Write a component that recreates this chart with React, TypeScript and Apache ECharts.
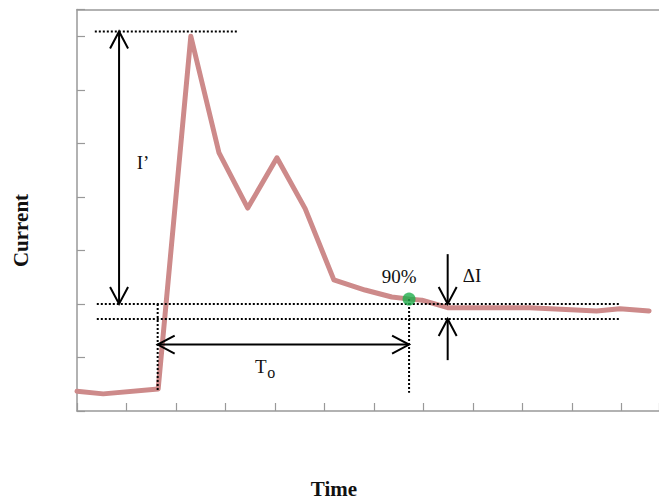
import React, { useEffect, useRef } from "react";
import * as echarts from "echarts";

// Measured current response (time in divisions, current in divisions)
const timeValues = [0, 0.53, 1.64, 2.3, 2.87, 3.45, 4.04, 4.61, 5.19, 5.82, 6.36, 6.73, 6.97, 7.49, 9.15, 10.5, 10.97, 11.56];
const currentValues = [0.37, 0.32, 0.41, 7.0, 4.82, 3.79, 4.73, 3.78, 2.45, 2.26, 2.13, 2.09, 2.07, 1.93, 1.93, 1.87, 1.91, 1.87];

// Characteristic levels and instants
const peakLevel = 7.09;
const bandUpper = 2.0;
const bandLower = 1.72;
const riseStartTime = 1.63;
const riseStartCurrent = 0.39;
const settleTime = 6.71;
const settleCurrent = 2.09;
const settleFootCurrent = 0.34;
const peakArrowTime = 0.85;
const periodArrowCurrent = 1.24;
const deltaArrowTime = 7.49;
const deltaTopCurrent = 2.93;
const deltaBottomCurrent = 0.95;
const bandStartTime = 0.4;
const bandEndTime = 10.97;
const peakLineStart = 0.36;
const peakLineEnd = 3.25;

const X_MAX = 11.76;
const Y_MAX = 7.5;

const SERIF = '"Liberation Serif", "Times New Roman", serif';
const INK = "#111";

export default function App() {
  const ref = useRef<HTMLDivElement>(null);

  useEffect(() => {
    if (!ref.current) return;
    const chart = echarts.init(ref.current, null, { renderer: "svg" });

    const dotted = (a: number[], b: number[]) => ({
      type: "line",
      shape: { x1: a[0], y1: a[1], x2: b[0], y2: b[1] },
      style: { stroke: "#000", lineWidth: 2, lineDash: [2, 2] },
    });

    const head = (tip: number[], from: number[]) => {
      const dx = from[0] - tip[0];
      const dy = from[1] - tip[1];
      const len = Math.hypot(dx, dy) || 1;
      const ux = dx / len;
      const uy = dy / len;
      const L = 17;
      const W = 9;
      return {
        type: "polyline",
        shape: {
          points: [
            [tip[0] + ux * L - uy * W, tip[1] + uy * L + ux * W],
            [tip[0], tip[1]],
            [tip[0] + ux * L + uy * W, tip[1] + uy * L - ux * W],
          ],
        },
        style: { stroke: "#000", lineWidth: 2, fill: "none" },
      };
    };

    const shaft = (a: number[], b: number[]) => ({
      type: "line",
      shape: { x1: a[0], y1: a[1], x2: b[0], y2: b[1] },
      style: { stroke: "#000", lineWidth: 2 },
    });

    const label = (text: string, x: number, y: number, size = 19, align = "center") => ({
      type: "text",
      style: {
        text,
        x,
        y,
        fill: INK,
        font: `${size}px ${SERIF}`,
        align,
        verticalAlign: "middle",
      },
    });

    const renderAnnotations = (_params: any, api: any) => {
      const P = (x: number, y: number) => api.coord([x, y]);
      const children: any[] = [];

      // reference levels
      children.push(dotted(P(peakLineStart, peakLevel), P(peakLineEnd, peakLevel)));
      children.push(dotted(P(bandStartTime, bandUpper), P(bandEndTime, bandUpper)));
      children.push(dotted(P(bandStartTime, bandLower), P(bandEndTime, bandLower)));
      children.push(dotted(P(riseStartTime, bandUpper), P(riseStartTime, riseStartCurrent)));
      children.push(dotted(P(settleTime, settleCurrent), P(settleTime, settleFootCurrent)));

      // peak amplitude arrow
      const iTop = P(peakArrowTime, peakLevel);
      const iBot = P(peakArrowTime, bandUpper);
      children.push(shaft(iTop, iBot), head(iTop, iBot), head(iBot, iTop));
      children.push(label("I\u2019", iTop[0] + 24, (iTop[1] + iBot[1]) / 2 - 5));

      // settling period arrow
      const tL = P(riseStartTime, periodArrowCurrent);
      const tR = P(settleTime, periodArrowCurrent);
      children.push(shaft(tL, tR), head(tL, tR), head(tR, tL));
      const tMid = (tL[0] + tR[0]) / 2;
      children.push(label("T", tMid - 22.5, tL[1] + 22));
      children.push(label("o", tMid - 12, tL[1] + 28, 16));

      // tolerance band arrows
      const dTop = P(deltaArrowTime, deltaTopCurrent);
      const dUp = P(deltaArrowTime, bandUpper);
      const dLow = P(deltaArrowTime, bandLower);
      const dBot = P(deltaArrowTime, deltaBottomCurrent);
      children.push(shaft(dTop, dUp), head(dUp, dTop));
      children.push(shaft(dBot, dLow), head(dLow, dBot));
      children.push(label("\u0394I", dTop[0] + 15, dTop[1] + 21.5, 19, "left"));

      // settling point caption
      const s = P(settleTime, settleCurrent);
      children.push(label("90%", s[0] - 10, s[1] - 22.5));

      return { type: "group", children };
    };

    chart.setOption({
      animation: false,
      backgroundColor: "#fff",
      grid: { left: 77, top: 9.5, right: 0, bottom: 89 },
      xAxis: [
        {
          type: "value",
          min: 0,
          max: X_MAX,
          interval: 1,
          position: "bottom",
          axisLine: { show: true, lineStyle: { color: "#999", width: 1.5 } },
          axisTick: { show: true, inside: true, length: 8, lineStyle: { color: "#999", width: 1.2 } },
          axisLabel: { show: false },
          splitLine: { show: false },
        },
        {
          type: "value",
          min: 0,
          max: X_MAX,
          position: "top",
          axisLine: { show: true, onZero: false, lineStyle: { color: "#999", width: 1.5 } },
          axisTick: { show: false },
          axisLabel: { show: false },
          splitLine: { show: false },
        },
      ],
      yAxis: {
        type: "value",
        min: 0,
        max: Y_MAX,
        interval: 1,
        axisLine: { show: true, onZero: false, lineStyle: { color: "#999", width: 1.5 } },
        axisTick: { show: true, inside: true, length: 8, lineStyle: { color: "#999", width: 1.2 } },
        axisLabel: { show: false },
        splitLine: { show: false },
      },
      graphic: [
        {
          type: "text",
          x: 21,
          y: 230.5,
          rotation: Math.PI / 2,
          style: {
            text: "Current",
            font: `bold 21px ${SERIF}`,
            fill: INK,
            align: "center",
            verticalAlign: "middle",
          },
        },
        {
          type: "text",
          x: 334,
          y: 489,
          style: {
            text: "Time",
            font: `bold 21px ${SERIF}`,
            fill: INK,
            align: "center",
            verticalAlign: "middle",
          },
        },
      ],
      series: [
        {
          type: "line",
          data: timeValues.map((t, i) => [t, currentValues[i]]),
          symbol: "none",
          lineStyle: { color: "#cd8a8a", width: 5, join: "round", cap: "round" },
          z: 2,
        },
        {
          type: "custom",
          data: [[0, 0]],
          renderItem: renderAnnotations,
          clip: false,
          silent: true,
          z: 3,
        },
        {
          type: "scatter",
          data: [[settleTime, settleCurrent]],
          symbolSize: 13,
          itemStyle: { color: "#1fae4b" },
          z: 4,
        },
      ],
    });

    return () => chart.dispose();
  }, []);

  return (
    <div
      ref={ref}
      style={{ position: "absolute", left: 0, top: 0, width: 659, height: 500 }}
    />
  );
}
